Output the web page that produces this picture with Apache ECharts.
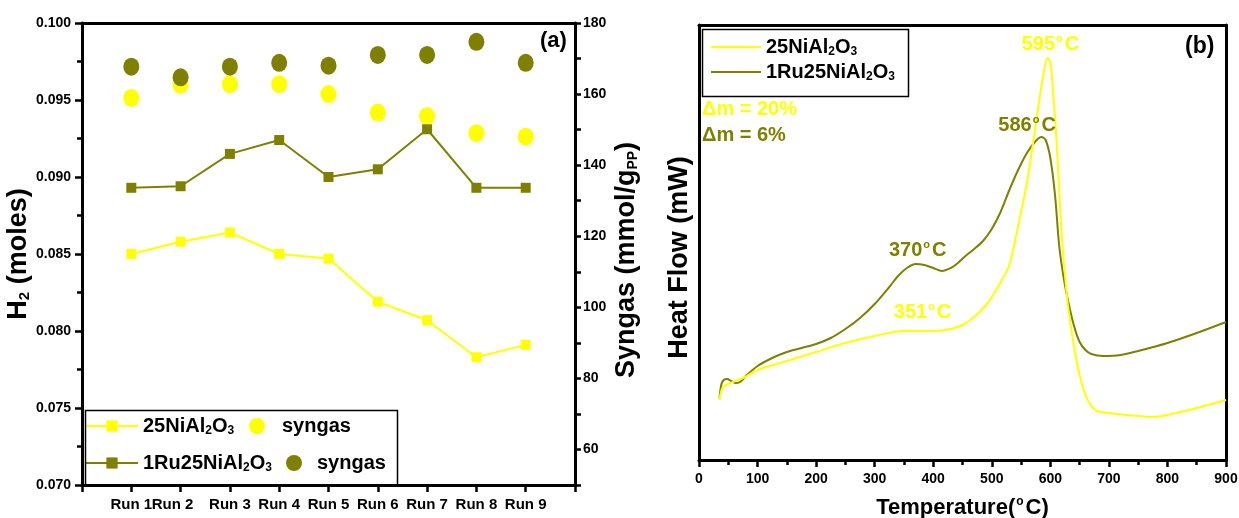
<!DOCTYPE html>
<html><head><meta charset="utf-8">
<script src="https://cdn.jsdelivr.net/npm/echarts@6/dist/echarts.min.js"></script>
<style>html,body{margin:0;padding:0;background:#fff}#c{width:1239px;height:518px}</style>
</head><body><div id="c"></div>
<script>
// ---- data: panel (a) ----
const runs = ['Run 1','Run 2','Run 3','Run 4','Run 5','Run 6','Run 7','Run 8','Run 9'];
const h2Ni  = [0.0850, 0.0858, 0.0864, 0.0850, 0.0847, 0.0819, 0.0807, 0.0783, 0.0791];
const h2Ru  = [0.0893, 0.0894, 0.0915, 0.0924, 0.0900, 0.0905, 0.0931, 0.0893, 0.0893];
const synNi = [158.9, 162.6, 162.8, 162.8, 160.0, 154.8, 153.8, 149.0, 148.0];
const synRu = [167.7, 164.7, 167.7, 168.8, 168.0, 171.0, 171.0, 174.7, 168.8];
// ---- data: panel (b) DSC (temperature °C, heat flow a.u.) ----
const dscNiT = [35,40,50,75,100,150,200,250,300,350,400,430,450,470,490,500,520,530,540,550,560,570,580,588,595,600,605,610,615,620,625,630,640,650,660,670,680,700,750,775,800,850,900];
const dscNiV = [60,72,76,82,90,99,108,117,124,129,129,131,135,143,155,163,183,195,220,248,277,315,355,385,402,398,365,325,270,220,185,155,115,85,65,54,49,47,44,43,45,52,60];
const dscRuT = [35,38,42,48,55,62,70,80,100,125,150,175,200,225,250,275,300,325,340,355,370,385,400,415,430,440,455,470,485,500,515,530,545,560,575,585,592,600,608,615,622,630,640,650,660,670,690,720,750,800,850,900];
const dscRuV = [62,75,80,81,79,77,78,84,94,102,108,112,116,122,131,142,156,173,184,192,196,195,192,189,192,196,204,211,219,231,248,270,290,307,319,323,320,302,265,215,185,160,135,118,110,106,104,105,109,117,127,138];
const peaksNi = [{T:595, v:402, label:'595'}, {T:351, v:129, label:'351'}];
const peaksRu = [{T:586, v:323, label:'586'}, {T:370, v:196, label:'370'}];

const YEL = '#FFFF00', OLV = '#808000';
const FONT = 'Liberation Sans, Arial, sans-serif';
const subRich = {
  sub: {fontSize: 12, fontWeight: 'bold', fontFamily: FONT, padding: [10,0,0,0]}
};
function chem(s){ return s.replace('Al2O3', 'Al{sub|2}O{sub|3}'); }
const nameMap = {
  'H2 Ni':'25NiAl2O3', 'H2 Ru':'1Ru25NiAl2O3', 'Syngas Ni':'syngas', 'Syngas Ru':'syngas',
  'DSC Ni':'25NiAl2O3', 'DSC Ru':'1Ru25NiAl2O3'
};
const axisLineS = {show:true, onZero:false, lineStyle:{color:'#000', width:3}};
const labS = {color:'#000', fontWeight:'bold', fontFamily:FONT};
const legText = {...labS, fontSize:20, rich:subRich};
const labelOffset = {'595':[3,-14], '351':[18,-19], '586':[-15,-12], '370':[2,-14]};
function peakLabels(list, color){
  return {symbol:'circle', symbolSize:0, silent:true,
    data: list.map(p=>({coord:[p.T,p.v], label:{show:true, position:'inside',
      formatter: p.label + '{sup|o}C', offset: labelOffset[p.label],
      color: color, fontWeight:'bold', fontSize:20, fontFamily:FONT,
      rich:{sup:{fontSize:11, fontWeight:'bold', fontFamily:FONT, color:color, padding:[0,2,11,1]}}}}))};
}

const chart = echarts.init(document.getElementById('c'), null, {renderer:'canvas'});
const option = {
  animation:false,
  backgroundColor:'#fff',
  grid:[
    {left:82, right:664, top:23, bottom:33, outerBoundsMode:'none', containLabel:false},
    {left:699, right:13, top:25, bottom:58, outerBoundsMode:'none', containLabel:false}
  ],
  xAxis:[
    {gridIndex:0, type:'category', data:['', ...runs, ''], boundaryGap:false,
     axisLine:axisLineS, axisTick:{show:true, length:7, lineStyle:{width:2.5,color:'#000'}, interval:0},
     axisLabel:{...labS, fontSize:15, margin:12, interval:0,
       formatter:v=>(v==='Run 2' ? '{l|Run 2}' : v),
       rich:{l:{fontSize:15, fontWeight:'bold', fontFamily:FONT, padding:[0,16,0,0]}}},
     splitLine:{show:false}},
    {gridIndex:0, type:'value', position:'top', min:0, max:1, axisLine:axisLineS,
     axisTick:{show:false}, axisLabel:{show:false}, splitLine:{show:false}},
    {gridIndex:1, type:'value', min:0, max:900, interval:100, axisLine:axisLineS,
     axisTick:{show:true, length:7, lineStyle:{width:2.5,color:'#000'}},
     minorTick:{show:true, splitNumber:2, length:5, lineStyle:{width:2.5,color:'#000'}},
     axisLabel:{...labS, fontSize:14, margin:12},
     splitLine:{show:false},
     name:'Temperature({sup|o}C)', nameLocation:'middle', nameGap:36,
     nameTextStyle:{...labS, fontSize:22, rich:{sup:{fontSize:12, fontWeight:'bold', fontFamily:FONT, padding:[0,2,12,1]}}}},
    {gridIndex:1, type:'value', position:'top', min:0, max:1, axisLine:axisLineS,
     axisTick:{show:false}, axisLabel:{show:false}, splitLine:{show:false}}
  ],
  yAxis:[
    {gridIndex:0, type:'value', min:0.07, max:0.1, interval:0.005, axisLine:axisLineS,
     axisTick:{show:true, length:7, lineStyle:{width:2.5,color:'#000'}},
     minorTick:{show:true, splitNumber:2, length:5, lineStyle:{width:2.5,color:'#000'}},
     axisLabel:{...labS, fontSize:14, margin:11, formatter:v=>v.toFixed(3)},
     splitLine:{show:false},
     name:'H{sub|2} (moles)', nameLocation:'middle', nameGap:45, nameRotate:90,
     nameTextStyle:{...labS, fontSize:27, rich:{sub:{fontSize:15, fontWeight:'bold', fontFamily:FONT, padding:[12,0,0,0]}}}},
    {gridIndex:0, type:'value', position:'right', min:50, max:180, interval:10, axisLine:axisLineS,
     axisTick:{show:true, length:6, lineStyle:{width:2.5,color:'#000'}},
     axisLabel:{...labS, fontSize:14, margin:8, formatter:v=>(v%20===0? String(v):'')},
     splitLine:{show:false},
     name:'Syngas (mmol/g{sub|PP})', nameLocation:'middle', nameGap:38, nameRotate:90,
     nameTextStyle:{...labS, fontSize:27, padding:[0,12,0,0],
       rich:{sub:{fontSize:14, fontWeight:'bold', fontFamily:FONT, padding:[13,0,0,0]}}}},
    {gridIndex:1, type:'value', min:0, max:435, axisLine:axisLineS,
     axisTick:{show:false}, axisLabel:{show:false}, splitLine:{show:false},
     name:'Heat Flow (mW)', nameLocation:'middle', nameGap:6, nameRotate:90,
     nameTextStyle:{...labS, fontSize:27, padding:[0,30,0,0]}},
    {gridIndex:1, type:'value', position:'right', min:0, max:1, axisLine:axisLineS,
     axisTick:{show:false}, axisLabel:{show:false}, splitLine:{show:false}}
  ],
  legend:[
    {left:80, top:411, itemWidth:52, itemHeight:14, data:['H2 Ni'],
     formatter:n=>chem(nameMap[n]), textStyle:legText},
    {left:244, top:411, itemWidth:16, itemHeight:16, data:['Syngas Ni'],
     formatter:n=>nameMap[n], textStyle:{...legText, padding:[0,0,0,12]}},
    {left:80, top:448, itemWidth:52, itemHeight:14, data:['H2 Ru'],
     formatter:n=>chem(nameMap[n]), textStyle:legText},
    {left:281, top:448, itemWidth:16, itemHeight:16, data:['Syngas Ru'],
     formatter:n=>nameMap[n], textStyle:{...legText, padding:[0,0,0,10]}},
    {left:706, top:32, orient:'vertical', itemGap:4, itemWidth:50, itemHeight:2, icon:'rect',
     data:['DSC Ni','DSC Ru'],
     formatter:n=>chem(nameMap[n]), textStyle:legText}
  ],
  graphic:[
    {type:'rect', left:83, top:408, shape:{width:312, height:75}, style:{fill:'none', stroke:'#000', lineWidth:1.5}, z:10},
    {type:'rect', left:700, top:27, shape:{width:206, height:67}, style:{fill:'none', stroke:'#000', lineWidth:1.5}, z:10},
    {type:'text', left:540, top:30, style:{text:'(a)', fill:'#000', font:'bold 22px '+FONT}},
    {type:'text', left:1185, top:35, style:{text:'(b)', fill:'#000', font:'bold 23px '+FONT}},
    {type:'text', left:702, top:99, style:{text:'Δm = 20%', fill:YEL, font:'bold 20px '+FONT}},
    {type:'text', left:702, top:125, style:{text:'Δm = 6%', fill:OLV, font:'bold 20px '+FONT}}
  ],
  series:[
    {name:'H2 Ni', type:'line', xAxisIndex:0, yAxisIndex:0, data:runs.map((r,i)=>[r,h2Ni[i]]),
     symbol:'rect', symbolSize:10, lineStyle:{color:YEL, width:2}, itemStyle:{color:YEL}},
    {name:'H2 Ru', type:'line', xAxisIndex:0, yAxisIndex:0, data:runs.map((r,i)=>[r,h2Ru[i]]),
     symbol:'rect', symbolSize:10, lineStyle:{color:OLV, width:2}, itemStyle:{color:OLV}},
    {name:'Syngas Ni', type:'scatter', xAxisIndex:0, yAxisIndex:1, data:runs.map((r,i)=>[r,synNi[i]]),
     symbol:'circle', symbolSize:[16,18], itemStyle:{color:YEL, opacity:1}},
    {name:'Syngas Ru', type:'scatter', xAxisIndex:0, yAxisIndex:1, data:runs.map((r,i)=>[r,synRu[i]]),
     symbol:'circle', symbolSize:[16,18], itemStyle:{color:OLV, opacity:1}},
    {name:'DSC Ni', type:'line', xAxisIndex:2, yAxisIndex:2, data:dscNiT.map((t,i)=>[t,dscNiV[i]]),
     symbol:'none', smooth:0.3, lineStyle:{color:YEL, width:2}, itemStyle:{color:YEL}, z:3,
     markPoint:peakLabels(peaksNi, YEL)},
    {name:'DSC Ru', type:'line', xAxisIndex:2, yAxisIndex:2, data:dscRuT.map((t,i)=>[t,dscRuV[i]]),
     symbol:'none', smooth:0.3, lineStyle:{color:OLV, width:2}, itemStyle:{color:OLV}, z:2,
     markPoint:peakLabels(peaksRu, OLV)}
  ]
};
chart.setOption(option);
</script>
</body></html>
